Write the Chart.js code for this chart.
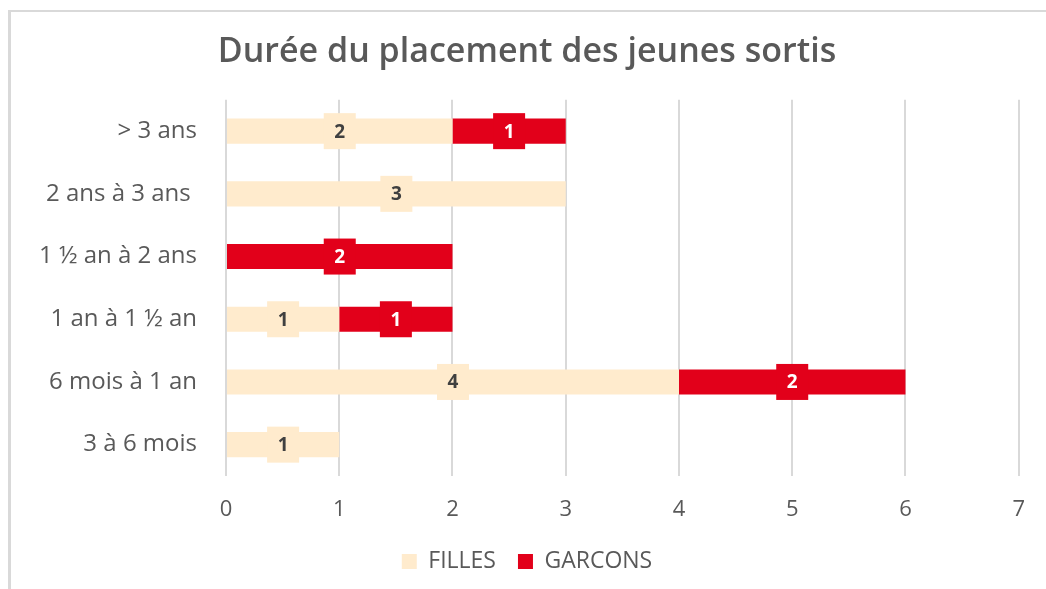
<!DOCTYPE html>
<html lang="fr">
<head>
<meta charset="utf-8">
<title>Durée du placement des jeunes sortis</title>
<script src="https://cdn.jsdelivr.net/npm/chart.js@4.4.1/dist/chart.umd.min.js"></script>
<style>
  html, body { margin: 0; padding: 0; background: #fff; }
  #wrap { position: relative; width: 1046px; height: 589px; overflow: hidden; }
  #frame {
    position: absolute; left: 8px; top: 10px; right: -10px; bottom: -10px;
    border-top: 2px solid #d9d9d9; border-left: 3px solid #d9d9d9;
  }
  #chart { position: absolute; left: 0; top: 0; }
</style>
</head>
<body>
<div id="wrap">
  <div id="frame"></div>
  <canvas id="chart" width="1046" height="589"></canvas>
</div>
<script>
// durées de placement (de haut en bas)
const categories = ['> 3 ans', '2 ans à 3 ans ', '1 ½ an à 2 ans', '1 an à 1 ½ an', '6 mois à 1 an', '3 à 6 mois'];
const filles = [2, 3, 0, 1, 4, 1];
const garcons = [1, 0, 2, 1, 2, 0];
const xTicks = [0, 1, 2, 3, 4, 5, 6, 7];

const FONT = '"Open Sans", "Noto Sans", sans-serif';
const GREY = '#595959';
const colFilles = '#FFEBCD';
const colGarcons = '#E2001A';

// petite étiquette encadrée au centre de chaque segment
const boxLabels = {
  id: 'boxLabels',
  afterDatasetsDraw(chart) {
    const ctx = chart.ctx;
    ctx.save();
    chart.data.datasets.forEach((ds, i) => {
      const meta = chart.getDatasetMeta(i);
      meta.data.forEach((bar, j) => {
        const v = ds.data[j];
        if (!v) return;
        const c = bar.getCenterPoint();
        ctx.fillStyle = ds.backgroundColor;
        ctx.fillRect(c.x - 16, c.y - 18, 32, 36);
        ctx.fillStyle = ds.labelColor;
        ctx.font = 'bold 19px ' + FONT;
        ctx.textAlign = 'center';
        ctx.textBaseline = 'middle';
        ctx.fillText(String(v), c.x, c.y + 1);
      });
    });
    ctx.restore();
  }
};

new Chart(document.getElementById('chart'), {
  type: 'bar',
  data: {
    labels: categories,
    datasets: [
      { label: 'FILLES', data: filles, backgroundColor: colFilles, labelColor: '#404040',
        categoryPercentage: 0.8, barPercentage: 0.5 },
      { label: 'GARCONS', data: garcons, backgroundColor: colGarcons, labelColor: '#ffffff',
        categoryPercentage: 0.8, barPercentage: 0.5 }
    ]
  },
  options: {
    indexAxis: 'y',
    responsive: false,
    animation: false,
    layout: { padding: { top: 12, right: 26, bottom: 6, left: 34 } },
    plugins: {
      title: {
        display: true,
        text: 'Durée du placement des jeunes sortis',
        color: GREY,
        font: { family: FONT, size: 34, weight: '600' },
        padding: { top: 20, bottom: 27 }
      },
      legend: {
        position: 'bottom',
        labels: {
          color: GREY,
          font: { family: FONT, size: 23 },
          boxWidth: 15,
          boxHeight: 15,
          padding: 22
        }
      },
      tooltip: { enabled: false }
    },
    scales: {
      x: {
        stacked: true,
        min: 0,
        max: 7,
        afterBuildTicks: (s) => { s.ticks = xTicks.map(v => ({ value: v })); },
        afterFit: (s) => { s.height = 52; },
        border: { display: false },
        grid: { color: '#d9d9d9', lineWidth: 2, drawTicks: false },
        ticks: { color: GREY, padding: 21, font: { family: FONT, size: 22 } }
      },
      y: {
        stacked: true,
        afterFit: (s) => { s.width = 192; },
        border: { display: false },
        grid: { display: false, drawTicks: false },
        ticks: { color: GREY, padding: 29, font: { family: FONT, size: 24 } }
      }
    }
  },
  plugins: [boxLabels]
});
</script>
</body>
</html>
